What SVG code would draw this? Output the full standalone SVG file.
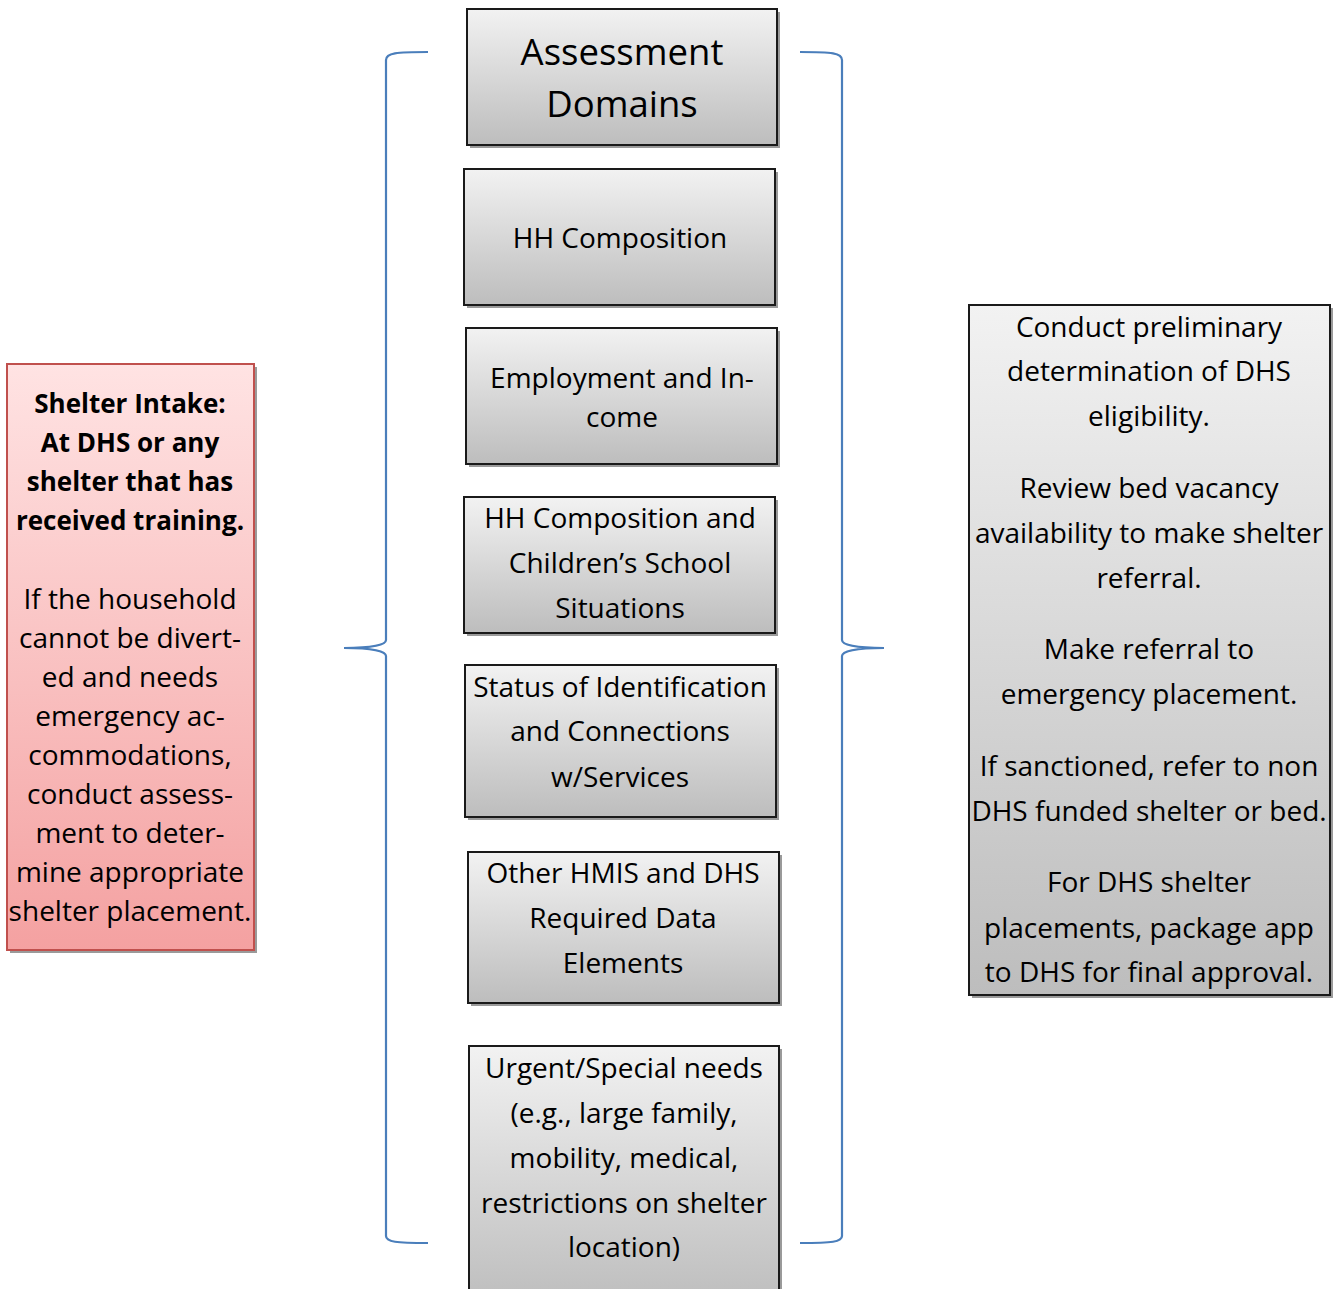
<svg xmlns="http://www.w3.org/2000/svg" width="1336" height="1289" viewBox="0 0 1336 1289">
<defs>
<linearGradient id="gray" x1="0" y1="0" x2="0" y2="1">
<stop offset="0" stop-color="#f2f2f2"/>
<stop offset="1" stop-color="#bdbdbd"/>
</linearGradient>
<linearGradient id="pink" x1="0" y1="0" x2="0" y2="1">
<stop offset="0" stop-color="#ffe3e3"/>
<stop offset="1" stop-color="#f4a1a1"/>
</linearGradient>
<style>
.box{fill:url(#gray);stroke:#1a1a1a;stroke-width:2}
.shadow{fill:#9a9a9a}
.pbox{fill:url(#pink);stroke:#c0504d;stroke-width:2}
.brace{fill:none;stroke:#4a7ebb;stroke-width:2.2}
text{font-family:"Open Sans","Liberation Sans",sans-serif;fill:#000;text-anchor:middle}
.t{font-size:28px}
.big{font-size:36.5px}
.b{font-weight:bold;font-size:26px}
</style>
</defs>
<rect width="1336" height="1289" fill="#fff"/>
<g id="connectors">
<path class="brace" d="M428,52 C396,52 386,53 386,60 L386,640 C386,645 372,648 344,648 C372,648 386,651 386,656 L386,1236 C386,1242 396,1243 428,1243"/>
<path class="brace" d="M800,52 C832,52 842,53 842,60 L842,640 C842,645 856,648 884,648 C856,648 842,651 842,656 L842,1236 C842,1242 832,1243 800,1243"/>
</g>
<g id="intake">
<rect class="shadow" x="10" y="367" width="247" height="586"/>
<rect class="pbox" x="7" y="364" width="247" height="586"/>
<text class="b" x="130" y="413">Shelter Intake:</text>
<text class="b" x="130" y="452">At DHS or any</text>
<text class="b" x="130" y="491">shelter that has</text>
<text class="b" x="130" y="530">received training.</text>
<text class="t" x="130" y="609">If the household</text>
<text class="t" x="130" y="648">cannot be divert-</text>
<text class="t" x="130" y="687">ed and needs</text>
<text class="t" x="130" y="726">emergency ac-</text>
<text class="t" x="130" y="765">commodations,</text>
<text class="t" x="130" y="804">conduct assess-</text>
<text class="t" x="130" y="843">ment to deter-</text>
<text class="t" x="130" y="882">mine appropriate</text>
<text class="t" x="130" y="921">shelter placement.</text>
</g>
<g id="domains">
<rect class="shadow" x="470" y="12" width="310" height="136"/>
<rect class="box" x="467" y="9" width="310" height="136"/>
<text class="big" x="622" y="65">Assessment</text>
<text class="big" x="622" y="117">Domains</text>
</g>
<g id="hh">
<rect class="shadow" x="467" y="172" width="311" height="136"/>
<rect class="box" x="464" y="169" width="311" height="136"/>
<text class="t" x="620" y="248">HH Composition</text>
</g>
<g id="employment">
<rect class="shadow" x="469" y="331" width="311" height="136"/>
<rect class="box" x="466" y="328" width="311" height="136"/>
<text class="t" x="622" y="388">Employment and In-</text>
<text class="t" x="622" y="427">come</text>
</g>
<g id="children">
<rect class="shadow" x="467" y="500" width="311" height="136"/>
<rect class="box" x="464" y="497" width="311" height="136"/>
<text class="t" x="620" y="528">HH Composition and</text>
<text class="t" x="620" y="573">Children’s School</text>
<text class="t" x="620" y="618">Situations</text>
</g>
<g id="identification">
<rect class="shadow" x="468" y="668" width="311" height="152"/>
<rect class="box" x="465" y="665" width="311" height="152"/>
<text class="t" x="620" y="697">Status of Identification</text>
<text class="t" x="620" y="741">and Connections</text>
<text class="t" x="620" y="787">w/Services</text>
</g>
<g id="hmis">
<rect class="shadow" x="471" y="855" width="311" height="151"/>
<rect class="box" x="468" y="852" width="311" height="151"/>
<text class="t" x="623" y="883">Other HMIS and DHS</text>
<text class="t" x="623" y="928">Required Data</text>
<text class="t" x="623" y="973">Elements</text>
</g>
<g id="urgent">
<rect class="shadow" x="472" y="1049" width="310" height="260"/>
<rect class="box" x="469" y="1046" width="310" height="260"/>
<text class="t" x="624" y="1078">Urgent/Special needs</text>
<text class="t" x="624" y="1123">(e.g., large family,</text>
<text class="t" x="624" y="1168">mobility, medical,</text>
<text class="t" x="624" y="1213">restrictions on shelter</text>
<text class="t" x="624" y="1257">location)</text>
</g>
<g id="actions">
<rect class="shadow" x="972" y="308" width="361" height="690"/>
<rect class="box" x="969" y="305" width="361" height="690"/>
<text class="t" x="1149" y="337">Conduct preliminary</text>
<text class="t" x="1149" y="381">determination of DHS</text>
<text class="t" x="1149" y="426">eligibility.</text>
<text class="t" x="1149" y="498">Review bed vacancy</text>
<text class="t" x="1149" y="543">availability to make shelter</text>
<text class="t" x="1149" y="588">referral.</text>
<text class="t" x="1149" y="659">Make referral to</text>
<text class="t" x="1149" y="704">emergency placement.</text>
<text class="t" x="1149" y="776">If sanctioned, refer to non</text>
<text class="t" x="1149" y="821">DHS funded shelter or bed.</text>
<text class="t" x="1149" y="892">For DHS shelter</text>
<text class="t" x="1149" y="938">placements, package app</text>
<text class="t" x="1149" y="982">to DHS for final approval.</text>
</g>
</svg>
